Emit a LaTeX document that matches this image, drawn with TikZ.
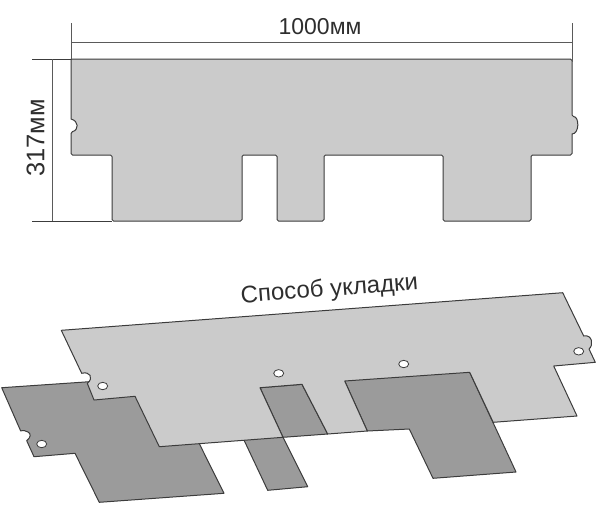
\documentclass[tikz,border=0pt]{standalone}
\usepackage{fontspec}
\setmainfont{Liberation Sans}
\definecolor{shlight}{HTML}{CBCBCB}
\definecolor{shdark}{HTML}{9B9B9B}
\definecolor{shline}{HTML}{3C3C3C}
\definecolor{dimc}{HTML}{5A5A5A}
\definecolor{txtc}{HTML}{2E2E2E}
\tikzset{
  lightshingle/.style={fill=shlight,draw=shline,line width=1pt,line join=round},
  darkshingle/.style={fill=shdark,draw=shline,line width=1pt,line join=round},
  dimline/.style={draw=dimc,line width=0.9pt},
  tickline/.style={draw=shline,line width=0.9pt},
  holeshape/.style={fill=white,draw=shline,line width=0.8pt},
  dimtext/.style={inner sep=0pt,text=txtc}
}
\begin{document}
\begin{tikzpicture}[x=1pt,y=-1pt]
\useasboundingbox (0,0) rectangle (604,515);
% top shingle
\draw[lightshingle,rounded corners=1.5pt]
  (71,59) -- (572,59) -- (572,116.5)
  [sharp corners] .. controls (579.5,116.5) and (579.5,134) .. (572,134)
  [rounded corners=1.5pt] -- (572,155) -- (531,155) -- (531,221) -- (443,221) -- (443,155) -- (324,155) -- (324,221)
  -- (277,221) -- (277,155) -- (242,155) -- (242,221) -- (112,221) -- (112,155) -- (71,155)
  -- (71,132) [sharp corners] .. controls (79,130) and (79,121) .. (71,119) -- cycle;
% dimensions
\coordinate (wl1) at (71,23); \coordinate (wl2) at (71,59);
\coordinate (wr1) at (572.5,23); \coordinate (wr2) at (572.5,62);
\coordinate (wa) at (71,42); \coordinate (wb) at (572.5,42);
\coordinate (ht1) at (32,59); \coordinate (ht2) at (71,59);
\coordinate (hb1) at (32,221); \coordinate (hb2) at (112,221);
\coordinate (ha) at (52,59); \coordinate (hb) at (52,221);
\draw[dimline] (wl1) -- (wl2);
\draw[dimline] (wr1) -- (wr2);
\draw[dimline] (wa) -- (wb);
\draw[tickline] (ht1) -- (ht2);
\draw[tickline] (hb1) -- (hb2);
\draw[dimline] (ha) -- (hb);
\node[dimtext,font=\fontsize{23}{23}\selectfont] (wtext) at (320,26.5) {1000мм};
\node[dimtext,font=\fontsize{25.5}{25.5}\selectfont,rotate=90] (htext) at (35.5,138) {317мм};
\node[dimtext,font=\fontsize{24}{24}\selectfont,rotate=4.5] (title) at (329.5,290) {Способ укладки};
% lower dark shingles
\draw[darkshingle]
  (110,380) -- (88,381.8) -- (1.7,387.7) -- (20.7,431)
  .. controls (24,429) and (36,433) .. (26.7,440.7)
  -- (34,456.7) -- (75,453.3) -- (99.3,502.3) -- (224,493.3) -- (190,425) -- cycle;
\draw[darkshingle] (235,423) -- (244.3,440.7) -- (267.7,490.3) -- (307.7,486.7) -- (283,437.3) -- cycle;
\draw[darkshingle] (340,372) -- (344.7,381) -- (367.3,431) -- (409.3,429) -- (433,478.3) -- (516,472) -- (469.7,372.3) -- cycle;
\draw[darkshingle] (260,387.7) -- (302,384.3) -- (327.7,434) -- (283,437.3) -- cycle;
% lower light shingle
\draw[lightshingle]
  (61.3,330.3) -- (562.7,292.7) -- (583.7,336)
  .. controls (592,334) and (594,345) .. (589,349)
  -- (595.3,362.3) -- (553.7,366) -- (577,416) -- (493.2,422.3) -- (469.7,372.3) -- (344.7,381)
  -- (367.3,431) -- (327.7,434) -- (302,384.3) -- (260,387.7) -- (283,437.3) -- (159.3,446.7)
  -- (135,396.3) -- (94,400) -- (87.3,383.3)
  .. controls (94,378) and (90,371) .. (81.7,373.3) -- cycle;
% holes
\draw[holeshape] (41.7,444) ellipse[x radius=5,y radius=3.7];
\draw[holeshape] (102.7,386) ellipse[x radius=5,y radius=3.7];
\draw[holeshape] (278.7,373.3) ellipse[x radius=5,y radius=3.7];
\draw[holeshape] (403.7,364) ellipse[x radius=5,y radius=3.7];
\draw[holeshape] (578.7,351.3) ellipse[x radius=5,y radius=3.7];
\end{tikzpicture}
\end{document}
